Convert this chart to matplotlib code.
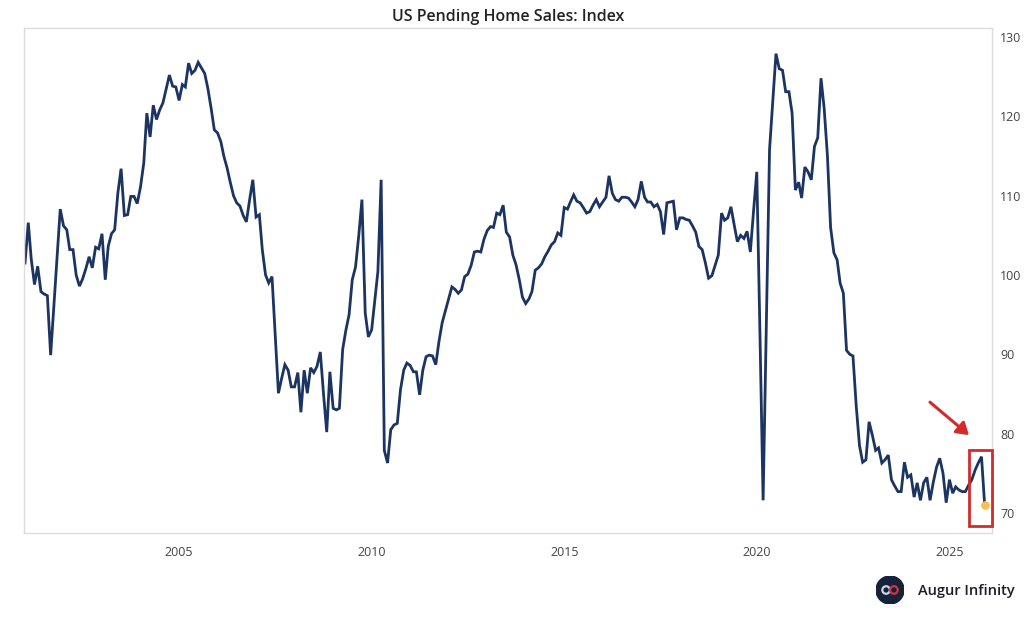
import matplotlib

matplotlib.use("Agg")
import matplotlib.pyplot as plt
import matplotlib.dates as mdates
import pandas as pd
from matplotlib.patches import Circle, FancyArrowPatch, Rectangle

plt.rcParams["font.family"] = ["Open Sans", "DejaVu Sans"]

# monthly index, Jan 2001 .. Dec 2025 (one row per year)
pending_index = [
    101.5, 106.6, 102.0, 98.8, 101.1, 97.9, 97.6, 97.4, 89.9, 96.0, 102.5, 108.3,
    106.2, 105.7, 103.2, 103.2, 100.0, 98.6, 99.5, 100.8, 102.3, 100.9, 103.5, 103.3,
    105.2, 99.4, 103.6, 105.2, 105.7, 110.4, 113.4, 107.5, 107.6, 109.9, 109.9, 109.0,
    111.1, 114.1, 120.4, 117.4, 121.4, 119.6, 120.8, 121.7, 123.5, 125.2, 123.8, 123.7,
    122.0, 124.0, 123.7, 126.7, 125.4, 125.8, 126.8, 126.1, 125.4, 123.5, 121.0, 118.3,
    117.9, 116.8, 115.0, 113.5, 111.7, 110.0, 109.1, 108.7, 107.5, 106.7, 109.5, 112.0,
    107.3, 107.6, 103.2, 100.0, 99.0, 99.8, 92.5, 85.1, 87.0, 88.7, 88.0, 85.9,
    85.9, 87.7, 82.7, 88.0, 85.1, 88.3, 87.7, 88.5, 90.3, 85.1, 80.2, 87.8,
    83.2, 83.0, 83.2, 90.6, 93.0, 95.0, 99.4, 101.0, 105.0, 109.5, 95.2, 92.2,
    93.1, 97.0, 100.4, 112.0, 77.9, 76.3, 80.5, 81.1, 81.3, 85.5, 88.0, 88.9,
    88.6, 87.8, 87.8, 84.9, 88.0, 89.7, 89.9, 89.8, 88.7, 91.6, 94.0, 95.5,
    97.0, 98.5, 98.2, 97.7, 98.1, 99.8, 100.1, 101.2, 102.9, 103.0, 102.9, 104.5,
    105.6, 106.1, 106.0, 107.8, 107.6, 108.8, 105.4, 104.8, 102.5, 101.3, 99.4, 97.2,
    96.4, 97.0, 97.9, 100.6, 100.9, 101.4, 102.3, 103.0, 103.8, 104.2, 105.3, 105.0,
    108.5, 108.3, 109.2, 110.1, 109.3, 109.1, 108.5, 107.8, 108.0, 108.8, 109.5, 108.6,
    109.2, 109.8, 112.5, 110.3, 109.5, 109.3, 109.8, 109.8, 109.7, 109.2, 108.6, 109.5,
    111.8, 109.8, 109.2, 109.2, 108.6, 108.9, 108.0, 105.1, 109.1, 109.2, 109.3, 105.7,
    107.2, 107.2, 107.0, 106.9, 106.2, 105.4, 103.6, 103.2, 101.5, 99.6, 99.9, 101.2,
    102.5, 107.8, 106.9, 107.2, 108.6, 106.3, 104.2, 105.0, 104.6, 105.5, 102.9, 108.0,
    113.0, 92.0, 71.6, 94.0, 115.8, 122.0, 127.9, 126.0, 125.8, 123.1, 123.1, 120.4,
    110.7, 111.7, 109.7, 113.6, 113.0, 112.0, 116.2, 117.3, 124.8, 121.0, 115.0, 106.0,
    102.8, 101.9, 99.0, 97.7, 90.5, 90.0, 89.8, 83.5, 78.5, 76.4, 76.7, 81.5,
    79.8, 77.9, 78.2, 76.3, 76.7, 77.3, 74.2, 73.4, 72.7, 72.7, 76.4, 74.5,
    74.8, 72.0, 73.8, 71.6, 73.8, 74.5, 71.6, 73.9, 75.8, 76.9, 75.0, 71.3,
    74.2, 72.5, 73.3, 72.9, 72.7, 72.7, 73.5, 74.2, 75.4, 76.3, 77.1, 71.0,
]
start_month = "2001-01-01"
tick_years = [2005, 2010, 2015, 2020, 2025]
y_ticks = [70, 80, 90, 100, 110, 120, 130]

dates = pd.date_range(start_month, periods=len(pending_index), freq="MS")

fig = plt.figure(figsize=(10.24, 6.21), dpi=100)
fig.patch.set_facecolor("white")
ax = fig.add_axes([0.0234, 0.1417, 0.9453, 0.8132])

ax.plot(dates, pending_index, color="#1b3461", linewidth=2.0, solid_joinstyle="miter")
ax.scatter([dates[-1]], [pending_index[-1]], s=28, color="#f2c14e", zorder=5)

ax.set_xlim(pd.Timestamp("2000-12-22"), pd.Timestamp("2026-02-08"))
ax.set_ylim(67.48, 131.13)

ax.set_xticks([pd.Timestamp(f"{y}-01-01") for y in tick_years])
ax.xaxis.set_major_formatter(mdates.DateFormatter("%Y"))
ax.set_yticks(y_ticks)
ax.yaxis.tick_right()
ax.tick_params(axis="both", length=0, labelsize=9, labelcolor="#444444")
ax.tick_params(axis="x", pad=9)
ax.tick_params(axis="y", pad=6)
for sp in ax.spines.values():
    sp.set_color("#dcdcdc")
    sp.set_linewidth(1.0)

ax.set_title("US Pending Home Sales: Index", fontsize=11.5, fontweight="semibold",
             color="#222222", pad=5)

# highlight of the latest reading
box_x0 = mdates.date2num(pd.Timestamp("2025-07-05"))
box_x1 = mdates.date2num(pd.Timestamp("2026-02-05"))
ax.add_patch(Rectangle((box_x0, 68.4), box_x1 - box_x0, 9.55, fill=False,
                       edgecolor="#d42a2a", linewidth=2.0, clip_on=False, zorder=6))
arrow = FancyArrowPatch(
    (mdates.date2num(pd.Timestamp("2024-06-10")), 84.2),
    (mdates.date2num(pd.Timestamp("2025-07-25")), 79.6),
    arrowstyle="-|>,head_length=7,head_width=4.5", color="#d42a2a",
    linewidth=2.2, clip_on=False, zorder=6,
)
ax.add_patch(arrow)

# brand logo
lax = fig.add_axes([876 / 1024, 1 - 604 / 621, 28 / 1024, 28 / 621])
lax.set_xlim(-1, 1)
lax.set_ylim(-1, 1)
lax.set_aspect("equal")
lax.axis("off")
lax.add_patch(Circle((0, 0), 1.0, color="#16213a"))
lax.add_patch(Circle((-0.28, 0), 0.27, fill=False, edgecolor="#c9d4e6", linewidth=1.6))
lax.add_patch(Circle((0.28, 0), 0.27, fill=False, edgecolor="#d0343c", linewidth=1.6))
fig.text(918 / 1024, 1 - 591 / 621, "Augur Infinity", fontsize=10.5,
         fontweight="semibold", color="#1c1c2a", va="center", ha="left")

fig.savefig("out.png", dpi=100, facecolor="white")
